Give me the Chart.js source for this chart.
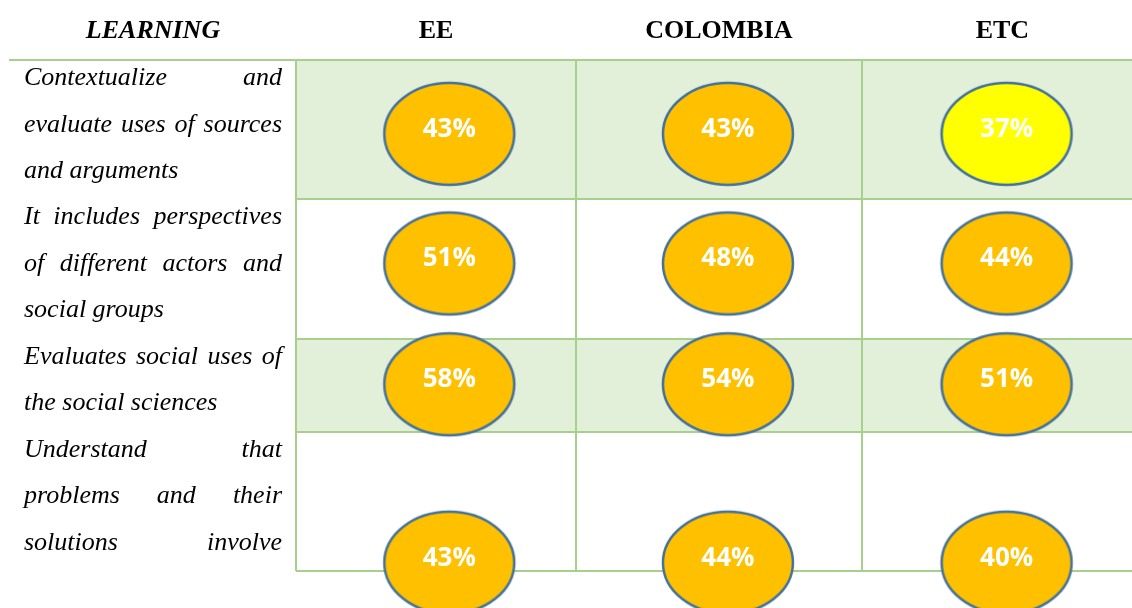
<!DOCTYPE html>
<html>
<head>
<meta charset="utf-8">
<script src="https://cdn.jsdelivr.net/npm/chart.js@4.4.1/dist/chart.umd.min.js"></script>
<style>
  html, body { margin: 0; padding: 0; background: #ffffff; overflow: hidden; }
  #myCanvas { display: block; }
</style>
</head>
<body>
<canvas id="myCanvas" width="1132" height="608"></canvas>
<script>
// ---- data ----
const columns = ['EE', 'COLOMBIA', 'ETC'];
const learning = [
  ['Contextualize and', 'evaluate uses of sources', 'and arguments'],
  ['It includes perspectives', 'of different actors and', 'social groups'],
  ['Evaluates social uses of', 'the social sciences'],
  ['Understand that', 'problems and their', 'solutions involve']
];
const ee = [43, 51, 58, 43];
const colombia = [43, 48, 54, 44];
const etc = [37, 44, 51, 40];
const series = [ee, colombia, etc];

// ---- layout ----
const headerTitle = 'LEARNING';
const lastLineCut = [false, false, false, true];   // last row text runs past the table
const rowAnchor = [0.53, 0.46, 0.49, 0.94];          // where the oval sits inside its row
const colEdges = [-0.55, 0.455, 1.48, 2.49];
const gridColor = '#a8d08d';
const shadeColor = '#e2efd9';

const rowEdges = [0];
learning.forEach(l => rowEdges.push(rowEdges[rowEdges.length - 1] + l.length));
const totalLines = rowEdges[rowEdges.length - 1];

function ovalImage(fill) {
  const c = document.createElement('canvas');
  c.width = 136;
  c.height = 108;
  const g = c.getContext('2d');
  g.beginPath();
  g.ellipse(68, 54, 65, 51, 0, 0, Math.PI * 2);
  g.fillStyle = fill;
  g.fill();
  g.lineWidth = 2.5;
  g.strokeStyle = '#41719c';
  g.stroke();
  return c;
}
const orangeOval = ovalImage('#ffc000');
const yellowOval = ovalImage('#ffff00');

const datasets = series.map((vals, c) => ({
  label: columns[c],
  data: vals.map((v, r) => ({ x: c, y: rowEdges[r] + rowAnchor[r] * learning[r].length, v: v })),
  pointStyle: ctx => (ctx.raw && ctx.raw.v < 40 ? yellowOval : orangeOval),
  pointRadius: 50,
  clip: false
}));

function justify(ctx, text, left, right, baseline) {
  const words = text.split(' ');
  const widths = words.map(w => ctx.measureText(w).width);
  const sum = widths.reduce((a, b) => a + b, 0);
  const gap = words.length > 1 ? (right - left - sum) / (words.length - 1) : 0;
  let xPos = left;
  words.forEach((w, i) => {
    ctx.fillText(w, xPos, baseline);
    xPos += widths[i] + gap;
  });
}

const tablePlugin = {
  id: 'table',
  beforeDatasetsDraw(chart) {
    const ctx = chart.ctx;
    const a = chart.chartArea;
    const xs = chart.scales.x, ys = chart.scales.y;
    ctx.save();
    // shaded rows
    learning.forEach((l, i) => {
      if (i % 2 === 0) {
        const t = ys.getPixelForValue(rowEdges[i]);
        const b = ys.getPixelForValue(rowEdges[i + 1]);
        ctx.fillStyle = shadeColor;
        ctx.fillRect(a.left, t, a.right - a.left, b - t);
      }
    });
    // grid
    ctx.strokeStyle = gridColor;
    ctx.lineWidth = 2;
    rowEdges.forEach((e, i) => {
      const yy = Math.round(ys.getPixelForValue(e));
      ctx.beginPath();
      ctx.moveTo(i === 0 ? 9 : a.left, yy);
      ctx.lineTo(a.right, yy);
      ctx.stroke();
    });
    colEdges.slice(0, 3).forEach(e => {
      const xx = Math.round(xs.getPixelForValue(e));
      ctx.beginPath();
      ctx.moveTo(xx, a.top);
      ctx.lineTo(xx, a.bottom);
      ctx.stroke();
    });
    // header
    ctx.fillStyle = '#000000';
    ctx.textAlign = 'center';
    ctx.textBaseline = 'alphabetic';
    ctx.font = 'italic bold 26px "Liberation Serif"';
    ctx.fillText(headerTitle, 153, 38);
    ctx.font = 'bold 26px "Liberation Serif"';
    columns.forEach((c, i) => {
      const l = xs.getPixelForValue(colEdges[i]);
      const r = xs.getPixelForValue(colEdges[i + 1]);
      ctx.fillText(c, (l + r) / 2, 38);
    });
    // row labels
    ctx.textAlign = 'left';
    ctx.font = 'italic 26px "Liberation Serif"';
    const lineH = (a.bottom - a.top) / totalLines;
    learning.forEach((lines, r) => {
      lines.forEach((txt, k) => {
        const base = a.top + (rowEdges[r] + k + 0.54) * lineH;
        const isLast = k === lines.length - 1;
        if (isLast && !lastLineCut[r]) ctx.fillText(txt, 24, base);
        else justify(ctx, txt, 24, 282, base);
      });
    });
    ctx.restore();
  },
  afterDatasetsDraw(chart) {
    const ctx = chart.ctx;
    ctx.save();
    ctx.fillStyle = '#ffffff';
    ctx.font = 'bold 26px "Open Sans"';
    ctx.textAlign = 'center';
    ctx.textBaseline = 'alphabetic';
    chart.data.datasets.forEach((ds, d) => {
      chart.getDatasetMeta(d).data.forEach((el, i) => {
        ctx.fillText(ds.data[i].v + '%', el.x, el.y + 3);
      });
    });
    ctx.restore();
  }
};

const myChart = new Chart(document.getElementById('myCanvas'), {
  type: 'scatter',
  data: { datasets: datasets },
  options: {
    responsive: false,
    animation: false,
    events: [],
    layout: { autoPadding: false, padding: { left: 296, top: 60, right: 0, bottom: 37 } },
    plugins: { legend: { display: false }, tooltip: { enabled: false } },
    scales: {
      x: { type: 'linear', min: -0.55, max: 2.45, display: false },
      y: { type: 'linear', min: 0, max: totalLines, reverse: true, display: false }
    }
  },
  plugins: [tablePlugin]
});
</script>
</body>
</html>
